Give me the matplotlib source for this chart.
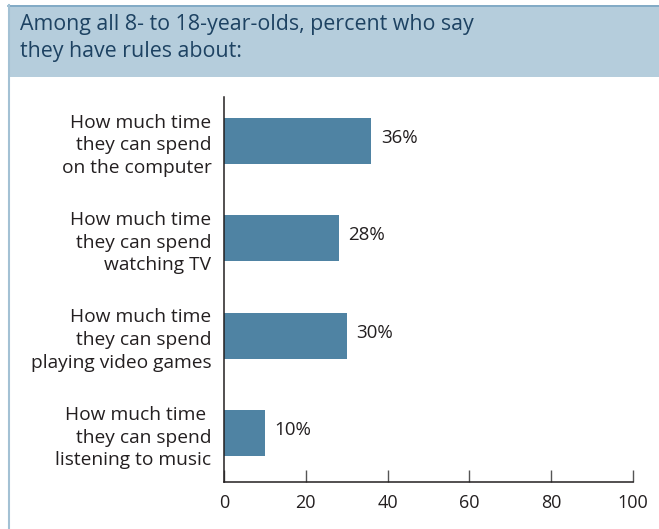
import matplotlib.pyplot as plt
from matplotlib.patches import Rectangle
from matplotlib.lines import Line2D

# chart data
categories = [
    "How much time\nthey can spend\non the computer",
    "How much time\nthey can spend\nwatching TV",
    "How much time\nthey can spend\nplaying video games",
    "How much time \nthey can spend\nlistening to music",
]
percents = [36, 28, 30, 10]
xticks = [0, 20, 40, 60, 80, 100]
title = "Among all 8- to 18-year-olds, percent who say\nthey have rules about:"

bar_color = "#4f83a3"
text_color = "#231f20"
plt.rcParams['font.family'] = ['Open Sans', 'DejaVu Sans']

fig = plt.figure(figsize=(6.59, 5.29), dpi=100)
W, H = 659, 529

# header band and frame
fig.patches.append(Rectangle((8 / W, 1 - 77 / H), 1, 72 / H, transform=fig.transFigure,
                             facecolor="#b5cddc", edgecolor="none", zorder=0))
fig.lines.append(Line2D([8 / W, 1], [1 - 5.5 / H] * 2, transform=fig.transFigure,
                        color="#7aa5c2", lw=1.2))
fig.lines.append(Line2D([8.5 / W] * 2, [0, 1 - 5 / H], transform=fig.transFigure,
                        color="#a3c1d4", lw=1.5))
fig.text(20 / W, 1 - 38 / H, title, color="#1d4262", fontsize=15.4,
         va="center", ha="left", linespacing=1.38)

ax = fig.add_axes([224 / W, 1 - 482 / H, 409 / W, 385 / H])
pos = list(range(len(categories)))
bars = ax.barh(pos, percents, height=0.47, color=bar_color)
for y, v in zip(pos, percents):
    ax.text(v + 2.4, y - 0.03, f"{v}%", va="center", ha="left",
            fontsize=13.5, color=text_color)

ax.set_xlim(0, 100)
ax.set_ylim(3.5, -0.45)
ax.set_yticks(pos)
ax.set_yticklabels(categories, fontsize=13.8, color=text_color, linespacing=1.33)
ax.tick_params(axis="y", length=0, pad=9)
ax.set_xticks(xticks)
ax.set_xticklabels([str(t) for t in xticks], fontsize=13, color=text_color)
ax.tick_params(axis="x", direction="in", length=9, width=1, color="#555555", pad=9)
for s in ["top", "right"]:
    ax.spines[s].set_visible(False)
for s in ["left", "bottom"]:
    ax.spines[s].set_color("#231f20")
    ax.spines[s].set_linewidth(1.1)

fig.savefig("out.png", dpi=100)
